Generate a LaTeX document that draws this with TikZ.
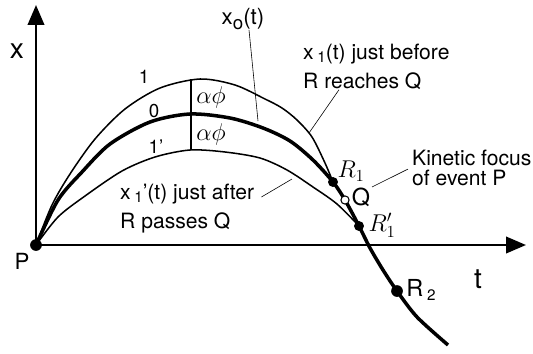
\documentclass[tikz,border=0pt]{standalone}
\usepackage{fontspec}
\setmainfont{TeX Gyre Heros}
\usetikzlibrary{arrows.meta,calc}
\tikzset{
  axis/.style={line width=2.1pt,-{Triangle[length=17pt,width=14pt]}},
  % the reference path is thick, its neighbours thin
  path0/.style={line width=3pt,line join=round},
  pathn/.style={line width=1.3pt,line join=round},
  leader/.style={line width=0.5pt},
  event/.style={circle,fill=black,inner sep=0pt,minimum size=#1},
  event/.default=8.5pt,
  focus/.style={circle,draw=black,fill=white,line width=0.9pt,inner sep=0pt,
    minimum size=7pt},
  lab/.style={inner sep=0pt,align=left,font=\fontsize{18}{24.5}\selectfont},
  axlab/.style={inner sep=0pt,font=\fontsize{24}{24}\selectfont},
  num/.style={inner sep=0pt,font=\fontsize{16}{16}\selectfont},
  mlab/.style={inner sep=0pt,font=\fontsize{20}{20}\selectfont}
}
\newcommand{\lsub}[1]{\,\raisebox{-0.3ex}{\fontsize{13}{13}\selectfont #1}}

\begin{document}
\begin{tikzpicture}[x=0.03cm,y=-0.03cm]
  \useasboundingbox (0,0) rectangle (533,353);
  \coordinate (O) at (36,245);
  \coordinate (xtip) at (36,5);
  \coordinate (ttip) at (526,245);
  \coordinate (R1) at (333,182);
  \coordinate (Q) at (345,200);
  \coordinate (R1p) at (359,226);
  \coordinate (R2) at (397,291);
  % axes
  \draw[axis] (O) -- (xtip);
  \draw[axis] (O) -- (ttip);
  \node[axlab] (labx) at (17,51) {x};
  \node[axlab] (labt) at (478,279) {t};
  \node[inner sep=0pt,font=\fontsize{19}{19}\selectfont] (labP) at (22,261) {P};
  % paths 1, 0 and 1'
  \draw[pathn] plot[smooth] coordinates {(O) (52,205) (70,174) (95,139)
    (125,109) (160,88) (200,79) (235,85) (265,99) (282,108) (297,120)
    (312,137) (325,163) (R1)};
  \draw[path0] plot[smooth] coordinates {(O) (58,200) (82,172) (110,144)
    (150,122) (190,114) (230,118) (263,128) (290,141) (313,160) (R1) (Q)
    (R1p) (370,248) (383,270) (R2) (417,317) (448,345)};
  \draw[pathn] plot[smooth] coordinates {(O) (58,217) (85,196) (122,171)
    (155,157) (190,150) (225,152) (260,158) (287,170) (313,187) (337,204)
    (R1p)};
  \draw[line width=1.4pt] (191,79) -- (191,150);
  \node[num] (lab1) at (144,77) {1};
  \node[num] (lab0) at (154,111) {0};
  \node[num] (lab1p) at (156,147) {1’};
  \node[mlab] (af1) at (211,97) {$\alpha\phi$};
  \node[mlab] (af2) at (211,134) {$\alpha\phi$};
  % events
  \node[event=10pt] (P) at (O) {};
  \node[event] (r1) at (R1) {};
  \node[focus] (q) at (Q) {};
  \node[event] (r1p) at (R1p) {};
  \node[event=10pt] (r2) at (R2) {};
  \node[mlab] (labR1) at (351,171) {$R_1$};
  \node[mlab] (labQ) at (361,197) {Q};
  \node[mlab] (labR1p) at (382,225) {$R'_1$};
  \node[mlab] (labR2) at (421,290) {R\lsub{2}};
  % labels and their leaders
  \coordinate (on0) at (258,121);
  \coordinate (on1) at (309,133);
  \coordinate (on1p) at (292,179);
  \coordinate (nearq) at (372,187);
  \node[inner sep=0pt,font=\fontsize{19}{19}\selectfont] (xzero) at (243,19)
    {x\raisebox{-4pt}{\fontsize{16}{16}\selectfont o}(t)};
  \node[lab,anchor=north west] (xone) at (303,44)
    {x\lsub{1}(t) just before\\R reaches Q};
  \node[lab,anchor=north west] (xonep) at (120,184)
    {x\lsub{1}’(t) just after\\R passes Q};
  \node[lab,anchor=north west,font=\fontsize{18}{17}\selectfont] (focuslab)
    at (412,150) {Kinetic focus\\of event P};
  \draw[leader] ($(xzero.south)+(6,0)$) -- (on0);
  \draw[leader] ($(xone.south west)+(36,0)$) -- (on1);
  \draw[leader] ($(xonep.north east)+(7,13)$) -- (on1p);
  \draw[leader] ($(focuslab.west)+(-4,1)$) -- (nearq);
\end{tikzpicture}
\end{document}
